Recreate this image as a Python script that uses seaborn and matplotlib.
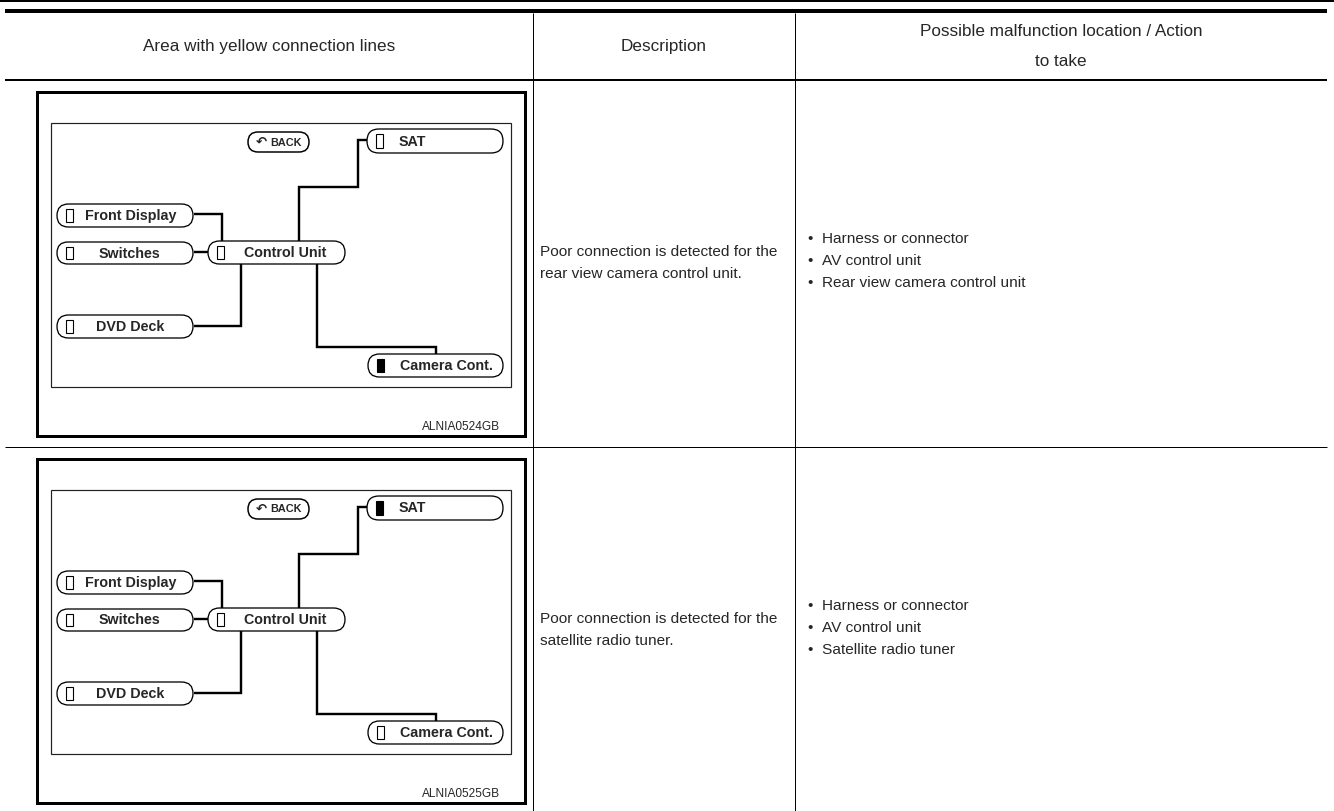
import matplotlib
matplotlib.use("Agg")
import matplotlib.pyplot as plt
from matplotlib.patches import Rectangle, FancyBboxPatch
import seaborn as sns

# ---------------- data ----------------
header_col1 = "Area with yellow connection lines"
header_col2 = "Description"
header_col3 = ["Possible malfunction location / Action", "to take"]

descriptions = [
    ["Poor connection is detected for the", "rear view camera control unit."],
    ["Poor connection is detected for the", "satellite radio tuner."],
]
actions = [
    ["Harness or connector", "AV control unit", "Rear view camera control unit"],
    ["Harness or connector", "AV control unit", "Satellite radio tuner"],
]
figure_codes = ["ALNIA0524GB", "ALNIA0525GB"]
node_labels = ["SAT", "Front Display", "Switches", "Control Unit", "DVD Deck", "Camera Cont."]
highlighted = ["Camera Cont.", "SAT"]
back_label = "BACK"

# ---------------- layout (pixels) ----------------
W, H = 1334, 811
COL_X = [5, 533, 795, 1327]
ROW_SHIFT = 367
ROW_LINE_Y = 447
ROW_TEXT_Y = 263
# node boxes: x0, y0, x1, y1, text center x
NODE_BOX = {
    "SAT": (367, 129, 503, 153, 412),
    "Front Display": (57, 204, 193, 227, 131),
    "Switches": (57, 242, 193, 264, 129),
    "Control Unit": (208, 241, 345, 264, 285),
    "DVD Deck": (57, 315, 193, 338, 130),
    "Camera Cont.": (368, 354, 503, 377, 446),
}
CONNECTORS = [
    [(367, 140), (358, 140), (358, 187), (299, 187), (299, 241)],
    [(194, 214), (222, 214), (222, 241)],
    [(194, 252), (208, 252)],
    [(241, 264), (241, 326), (194, 326)],
    [(317, 264), (317, 347), (436, 347), (436, 354)],
]

PX = 72.0 / 100.0  # points per pixel

sns.set_theme(style="white")
plt.rcParams["font.family"] = ["Liberation Sans", "DejaVu Sans"]

fig = plt.figure(figsize=(W / 100, H / 100), dpi=100)
ax = fig.add_axes([0, 0, 1, 1])
ax.set_xlim(0, W)
ax.set_ylim(H, 0)
ax.axis("off")


def hline(y, x0, x1, px):
    ax.plot([x0, x1], [y, y], color="black", lw=px * PX, solid_capstyle="butt")


def vline(x, y0, y1, px):
    ax.plot([x, x], [y0, y1], color="black", lw=px * PX, solid_capstyle="butt")


# table rules
hline(1, 0, W, 2)
hline(11, COL_X[0], COL_X[3], 4)
hline(80, COL_X[0], COL_X[3], 2)
hline(ROW_LINE_Y, COL_X[0], COL_X[3], 1)
for x in COL_X[1:3]:
    vline(x, 13, H, 1)

HFS = 12.3
FS = 11.1
ax.text((COL_X[0] + COL_X[1]) / 2, 47, header_col1, ha="center", va="center", fontsize=HFS)
ax.text((COL_X[1] + COL_X[2]) / 2, 47, header_col2, ha="center", va="center", fontsize=HFS)
for i, line in enumerate(header_col3):
    ax.text((COL_X[2] + COL_X[3]) / 2, 31 + i * 30, line, ha="center", va="center", fontsize=HFS)


def pill(x0, y0, x1, y1, lw=1.3):
    h = y1 - y0
    r = h / 2.0
    p = FancyBboxPatch((x0, y0), x1 - x0, h,
                       boxstyle=f"round,pad=0,rounding_size={r}",
                       fc="white", ec="black", lw=lw * PX, zorder=3)
    ax.add_patch(p)


for row in range(2):
    dy = row * ROW_SHIFT
    # outer frame
    ax.add_patch(Rectangle((36.5, 91.5 + dy), 488, 344, fc="white", ec="black",
                           lw=3 * PX, zorder=1))
    # inner screen
    ax.add_patch(Rectangle((51, 123 + dy), 460, 264, fc="white", ec="#222222",
                           lw=1.2 * PX, zorder=1))
    # connectors
    for path in CONNECTORS:
        xs = [p[0] for p in path]
        ys = [p[1] + dy for p in path]
        ax.plot(xs, ys, color="black", lw=2.4 * PX, zorder=2,
                solid_joinstyle="miter", solid_capstyle="butt")
    # BACK button
    pill(248, 132 + dy, 309, 152 + dy, lw=1.5)
    ax.text(261, 142 + dy, "\u21b6", ha="center", va="center", fontsize=9.5,
            fontweight="bold", family=["DejaVu Sans"], zorder=4)
    ax.text(286, 142.5 + dy, back_label, ha="center", va="center", fontsize=7.8,
            fontweight="bold", zorder=4)
    # nodes
    for lab in node_labels:
        x0, y0, x1, y1, tx = NODE_BOX[lab]
        pill(x0, y0 + dy, x1, y1 + dy)
        ih = (y1 - y0) - 10
        fc = "black" if lab == highlighted[row] else "white"
        ax.add_patch(Rectangle((x0 + 9, y0 + 5 + dy), 7, ih, fc=fc, ec="black",
                               lw=1.1 * PX, zorder=4))
        ax.text(tx, (y0 + y1) / 2 + dy + 0.5, lab, ha="center", va="center",
                fontsize=10.3, fontweight="bold", zorder=4)
    ax.text(500, 427 + dy, figure_codes[row], ha="right", va="center", fontsize=8.6)

    # description
    cy = ROW_TEXT_Y + dy
    n = len(descriptions[row])
    for i, line in enumerate(descriptions[row]):
        ax.text(COL_X[1] + 7, cy + (i - (n - 1) / 2) * 22, line, ha="left", va="center",
                fontsize=FS)
    n = len(actions[row])
    for i, line in enumerate(actions[row]):
        yy = cy - 2 + (i - (n - 1) / 2) * 22
        ax.text(COL_X[2] + 12, yy, "\u2022", ha="left", va="center", fontsize=FS)
        ax.text(COL_X[2] + 27, yy, line, ha="left", va="center", fontsize=FS)

fig.savefig("out.png", dpi=100)
